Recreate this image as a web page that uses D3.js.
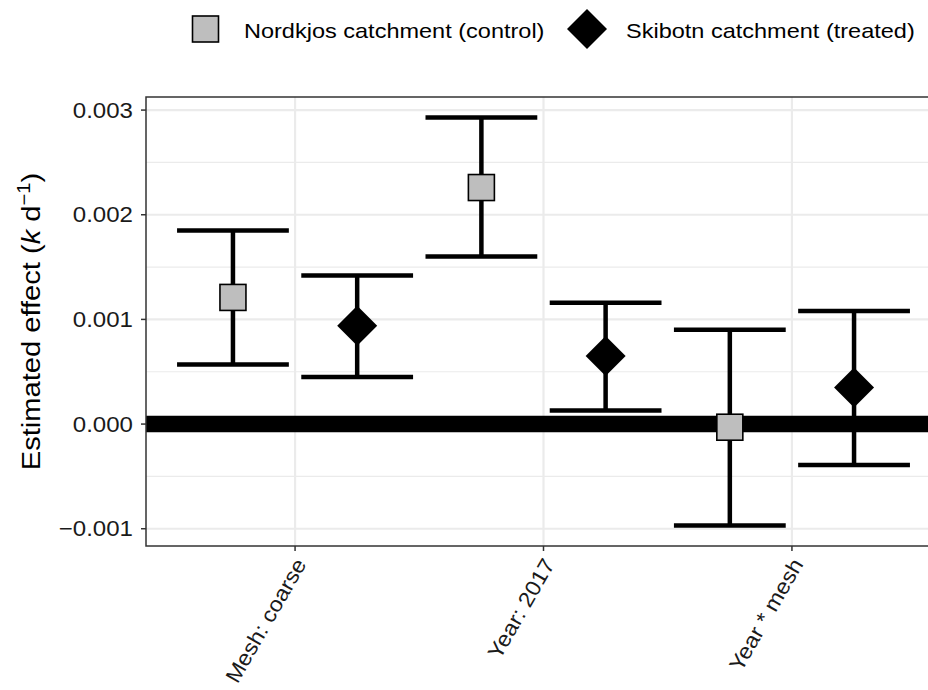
<!DOCTYPE html>
<html>
<head>
<meta charset="utf-8">
<script src="https://cdn.jsdelivr.net/npm/d3@7"></script>
<style>
  body { margin: 0; background: #fff; }
  text { font-family: "Liberation Sans", Arial, sans-serif; }
</style>
</head>
<body>
<div id="chart"></div>
<script>
// Coefficient plot: control vs treated catchment
const categories = ["Mesh: coarse", "Year: 2017", "Year * mesh"];

const controlEst = [0.00121, 0.00226, -0.00003];
const controlLow = [0.00057, 0.00160, -0.00097];
const controlHigh = [0.00185, 0.00293, 0.00090];

const treatedEst = [0.00094, 0.00065, 0.00035];
const treatedLow = [0.00045, 0.00013, -0.00039];
const treatedHigh = [0.00142, 0.00116, 0.00108];

const yTicks = [-0.001, 0, 0.001, 0.002, 0.003];
const yMinor = [-0.0005, 0.0005, 0.0015, 0.0025];

const seriesNames = ["Nordkjos catchment (control)", "Skibotn catchment (treated)"];

{
    const W = 928, H = 690;
    const panel = { left: 146, top: 97, width: 795, height: 449 };
    const sx = 1.12; // glyph widening seen in the reference text

    const svg = d3.select("#chart").append("svg")
        .attr("width", W).attr("height", H);

    const rows = categories.flatMap((c, i) => [
        { cat: c, group: 0, est: controlEst[i], lo: controlLow[i], hi: controlHigh[i] },
        { cat: c, group: 1, est: treatedEst[i], lo: treatedLow[i], hi: treatedHigh[i] }
    ]);

    const x = d3.scalePoint()
        .domain(categories)
        .range([panel.left, panel.left + panel.width])
        .padding(0.6);
    const step = x.step();
    const dodge = g => (g === 0 ? -0.25 : 0.25) * step;
    const capHalf = 0.225 * step;

    const lo = d3.min(rows, d => d.lo), hi = d3.max(rows, d => d.hi);
    const pad = (hi - lo) * 0.05;
    const y = d3.scaleLinear()
        .domain([lo - pad, hi + pad])
        .range([panel.top + panel.height, panel.top]);

    const g = svg.append("g");

    // panel background + grid
    g.append("rect")
        .attr("x", panel.left).attr("y", panel.top)
        .attr("width", panel.width).attr("height", panel.height)
        .attr("fill", "#fff");

    g.selectAll(".minor").data(yMinor).enter().append("line")
        .attr("x1", panel.left).attr("x2", panel.left + panel.width)
        .attr("y1", d => y(d)).attr("y2", d => y(d))
        .attr("stroke", "#EBEBEB").attr("stroke-width", 1.1);

    g.selectAll(".major").data(yTicks).enter().append("line")
        .attr("x1", panel.left).attr("x2", panel.left + panel.width)
        .attr("y1", d => y(d)).attr("y2", d => y(d))
        .attr("stroke", "#EBEBEB").attr("stroke-width", 2.2);

    g.selectAll(".vgrid").data(categories).enter().append("line")
        .attr("x1", d => x(d)).attr("x2", d => x(d))
        .attr("y1", panel.top).attr("y2", panel.top + panel.height)
        .attr("stroke", "#EBEBEB").attr("stroke-width", 2.2);

    // thick zero reference line
    g.append("line")
        .attr("x1", panel.left).attr("x2", panel.left + panel.width)
        .attr("y1", y(0)).attr("y2", y(0))
        .attr("stroke", "#000").attr("stroke-width", 16.5);

    // error bars
    const bars = g.selectAll(".err").data(rows).enter().append("g");
    bars.append("line")
        .attr("x1", d => x(d.cat) + dodge(d.group)).attr("x2", d => x(d.cat) + dodge(d.group))
        .attr("y1", d => y(d.lo)).attr("y2", d => y(d.hi))
        .attr("stroke", "#000").attr("stroke-width", 4.5);
    ["lo", "hi"].forEach(k => {
        bars.append("line")
            .attr("x1", d => x(d.cat) + dodge(d.group) - capHalf)
            .attr("x2", d => x(d.cat) + dodge(d.group) + capHalf)
            .attr("y1", d => y(d[k])).attr("y2", d => y(d[k]))
            .attr("stroke", "#000").attr("stroke-width", 4.5);
    });

    // points
    const square = 13, diamond = 20;
    function drawMark(sel, group) {
        if (group === 0) {
            sel.append("rect")
                .attr("x", -square).attr("y", -square)
                .attr("width", 2 * square).attr("height", 2 * square)
                .attr("fill", "#BEBEBE").attr("stroke", "#000").attr("stroke-width", 1.6);
        } else {
            sel.append("path")
                .attr("d", `M0,${-diamond}L${diamond},0L0,${diamond}L${-diamond},0Z`)
                .attr("fill", "#000");
        }
    }
    rows.forEach(d => {
        const m = g.append("g")
            .attr("transform", `translate(${x(d.cat) + dodge(d.group)},${y(d.est)})`);
        drawMark(m, d.group);
    });

    // panel border
    g.append("rect")
        .attr("x", panel.left).attr("y", panel.top)
        .attr("width", panel.width).attr("height", panel.height)
        .attr("fill", "none").attr("stroke", "#333").attr("stroke-width", 1.5);

    // y axis
    g.selectAll(".ytick").data(yTicks).enter().append("line")
        .attr("x1", panel.left - 5).attr("x2", panel.left)
        .attr("y1", d => y(d)).attr("y2", d => y(d))
        .attr("stroke", "#333").attr("stroke-width", 1.5);

    const fmt = d => d3.format(".3f")(d).replace("-", "\u2212");
    g.selectAll(".ylab").data(yTicks).enter().append("g")
        .attr("transform", d => `translate(${panel.left - 13},${y(d) + 7.6}) scale(${sx},1)`)
        .append("text")
        .attr("text-anchor", "end")
        .attr("font-size", 21.5)
        .attr("fill", "#1a1a1a")
        .text(fmt);

    // x axis
    g.selectAll(".xtick").data(categories).enter().append("line")
        .attr("x1", d => x(d)).attr("x2", d => x(d))
        .attr("y1", panel.top + panel.height).attr("y2", panel.top + panel.height + 5)
        .attr("stroke", "#333").attr("stroke-width", 1.5);

    g.selectAll(".xlab").data(categories).enter().append("g")
        .attr("transform", d => `translate(${x(d) + 12},${panel.top + panel.height + 18}) rotate(-60) scale(1.08,1)`)
        .append("text")
        .attr("text-anchor", "end")
        .attr("font-size", 21.5)
        .attr("fill", "#1a1a1a")
        .text(d => d);

    // y title
    const title = g.append("g")
        .attr("transform", `translate(39.5,${panel.top + panel.height / 2}) rotate(-90) scale(${sx},1)`)
        .append("text")
        .attr("text-anchor", "middle")
        .attr("font-size", 26)
        .attr("fill", "#000");
    title.append("tspan").text("Estimated effect (");
    title.append("tspan").attr("font-style", "italic").text("k");
    title.append("tspan").text(" d");
    title.append("tspan").attr("font-size", 18).attr("dy", -10).text("\u22121");
    title.append("tspan").attr("dy", 10).text(")");

    // legend
    const legendX = [205.5, 587];
    const legendTextX = [244, 626];
    seriesNames.forEach((name, i) => {
        const m = svg.append("g").attr("transform", `translate(${legendX[i]},29)`);
        drawMark(m, i);
        svg.append("g")
            .attr("transform", `translate(${legendTextX[i]},37.5) scale(1.12,1)`)
            .append("text")
            .attr("font-size", 21)
            .attr("fill", "#000")
            .text(name);
    });
}
</script>
</body>
</html>
